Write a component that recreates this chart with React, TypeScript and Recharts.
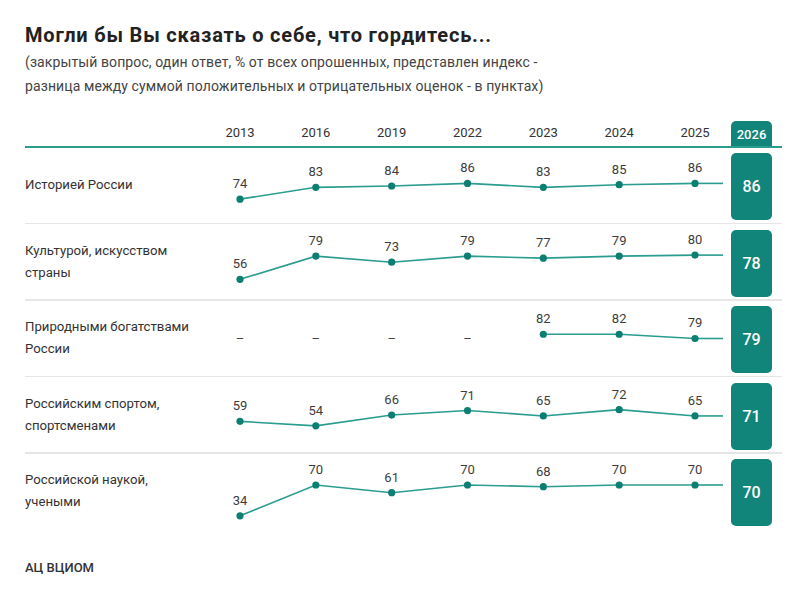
import { LineChart, Line, XAxis, YAxis, LabelList } from 'recharts';

const FONT = 'Roboto, "Noto Sans", sans-serif';
const TEAL = '#12857a';
const LINE = '#2b9c90';
const DOT = '#0c7f72';

// survey waves shown as a line, the latest wave goes into the box
const years = ['2013', '2016', '2019', '2022', '2023', '2024', '2025'];
const latestYear = '2026';

const topics = [
  ['Историей России'],
  ['Культурой, искусством', 'страны'],
  ['Природными богатствами', 'России'],
  ['Российским спортом,', 'спортсменами'],
  ['Российской наукой,', 'учеными'],
];

const historyValues = [74, 83, 84, 86, 83, 85, 86];
const cultureValues = [56, 79, 73, 79, 77, 79, 80];
const natureValues = [null, null, null, null, 82, 82, 79];
const sportValues = [59, 54, 66, 71, 65, 72, 65];
const scienceValues = [34, 70, 61, 70, 68, 70, 70];

const latestValues = [86, 78, 79, 71, 70];

// each row gets its own vertical scale
const rowDomains: [number, number][] = [
  [60, 98.5],
  [41, 91],
  [56.5, 92],
  [30, 86],
  [25, 84],
];

const series = [historyValues, cultureValues, natureValues, sportValues, scienceValues];

const ROW_TOP = 147;
const ROW_H = 76.5;
const CHART_MARGIN = { top: 20, right: 105, bottom: 6, left: 240 };

const RowDot = (props: any) => {
  const { cx, cy, value, index } = props;
  if (value == null || cy == null) {
    return (
      <text key={`d-${index}`} x={cx} y={ROW_H / 2} textAnchor="middle" dominantBaseline="central"
        fill="#444" fontSize={13} fontFamily={FONT}>–</text>
    );
  }
  const last = index === years.length - 1;
  return (
    <g key={`d-${index}`}>
      {last && <line x1={cx} y1={cy} x2={cx + 28} y2={cy} stroke={LINE} strokeWidth={1.6} />}
      <circle cx={cx} cy={cy} r={3.6} fill={DOT} />
    </g>
  );
};

const ValueLabel = (props: any) => {
  const { x, y, value } = props;
  if (value == null) return null;
  return (
    <text x={x} y={y - 11} textAnchor="middle" fill="#3d3d3d" fontSize={13} fontFamily={FONT}>{value}</text>
  );
};

const YearTick = (props: any) => {
  const { x, payload } = props;
  return (
    <text x={x} y={22} textAnchor="middle" dominantBaseline="central" fill="#333" fontSize={13} fontFamily={FONT}>
      {payload.value}
    </text>
  );
};

const TopicRow = ({ index }: { index: number }) => {
  const values = series[index];
  const data = years.map((year, i) => ({ year, value: values[i] }));
  const top = ROW_TOP + index * ROW_H;
  return (
    <>
      <div style={{ position: 'absolute', left: 25, top, height: ROW_H, display: 'flex', alignItems: 'center',
        fontSize: 13.2, lineHeight: '22px', color: '#333' }}>
        <div>{topics[index].map((t) => <div key={t}>{t}</div>)}</div>
      </div>
      <div style={{ position: 'absolute', left: 0, top }}>
        <LineChart width={800} height={ROW_H} data={data} margin={CHART_MARGIN}>
          <XAxis dataKey="year" hide />
          <YAxis hide domain={rowDomains[index]} />
          <Line dataKey="value" stroke={LINE} strokeWidth={1.6} dot={RowDot} activeDot={false}
            isAnimationActive={false}>
            <LabelList dataKey="value" content={ValueLabel} />
          </Line>
        </LineChart>
      </div>
      <div style={{ position: 'absolute', left: 731, top: top + 6, width: 41, height: 67, background: TEAL,
        borderRadius: 5, color: '#fff', fontSize: 16, fontWeight: 500, display: 'flex', alignItems: 'center',
        justifyContent: 'center' }}>
        {latestValues[index]}
      </div>
      {index < topics.length - 1 && (
        <div style={{ position: 'absolute', left: 25, top: top + ROW_H - 1, width: 757, height: 1.5,
          background: '#e6e6e6' }} />
      )}
    </>
  );
};

export default function App() {
  const headerData = years.map((year) => ({ year }));
  return (
    <div style={{ position: 'absolute', left: 0, top: 0, width: 800, height: 600, background: '#fff',
      fontFamily: FONT, overflow: 'hidden' }}>
      <div style={{ position: 'absolute', left: 25, top: 23, fontSize: 20, fontWeight: 700, lineHeight: '24px',
        letterSpacing: 0.8, color: '#222', whiteSpace: 'nowrap' }}>
        Могли бы Вы сказать о себе, что гордитесь...
      </div>
      <div style={{ position: 'absolute', left: 25, top: 50, fontSize: 14, lineHeight: '24px', letterSpacing: 0.1,
        color: '#444', whiteSpace: 'nowrap' }}>
        <div>(закрытый вопрос, один ответ, % от всех опрошенных, представлен индекс -</div>
        <div>разница между суммой положительных и отрицательных оценок - в пунктах)</div>
      </div>

      <div style={{ position: 'absolute', left: 0, top: 110 }}>
        <LineChart width={800} height={37} data={headerData} margin={{ top: 0, right: 105, bottom: 0, left: 240 }}>
          <XAxis dataKey="year" orientation="top" axisLine={false} tickLine={false} height={30} tick={YearTick} />
        </LineChart>
      </div>
      <div style={{ position: 'absolute', left: 731, top: 121, width: 41, height: 27, background: TEAL,
        borderRadius: '5px 5px 0 0', color: '#fff', fontSize: 13, fontWeight: 500, display: 'flex',
        alignItems: 'center', justifyContent: 'center' }}>
        {latestYear}
      </div>
      <div style={{ position: 'absolute', left: 25, top: 146, width: 757, height: 2, background: LINE }} />

      {topics.map((_, i) => <TopicRow key={i} index={i} />)}

      <div style={{ position: 'absolute', left: 25, top: 558, fontSize: 13, fontWeight: 500, lineHeight: '20px',
        color: '#333' }}>
        АЦ ВЦИОМ
      </div>
    </div>
  );
}
